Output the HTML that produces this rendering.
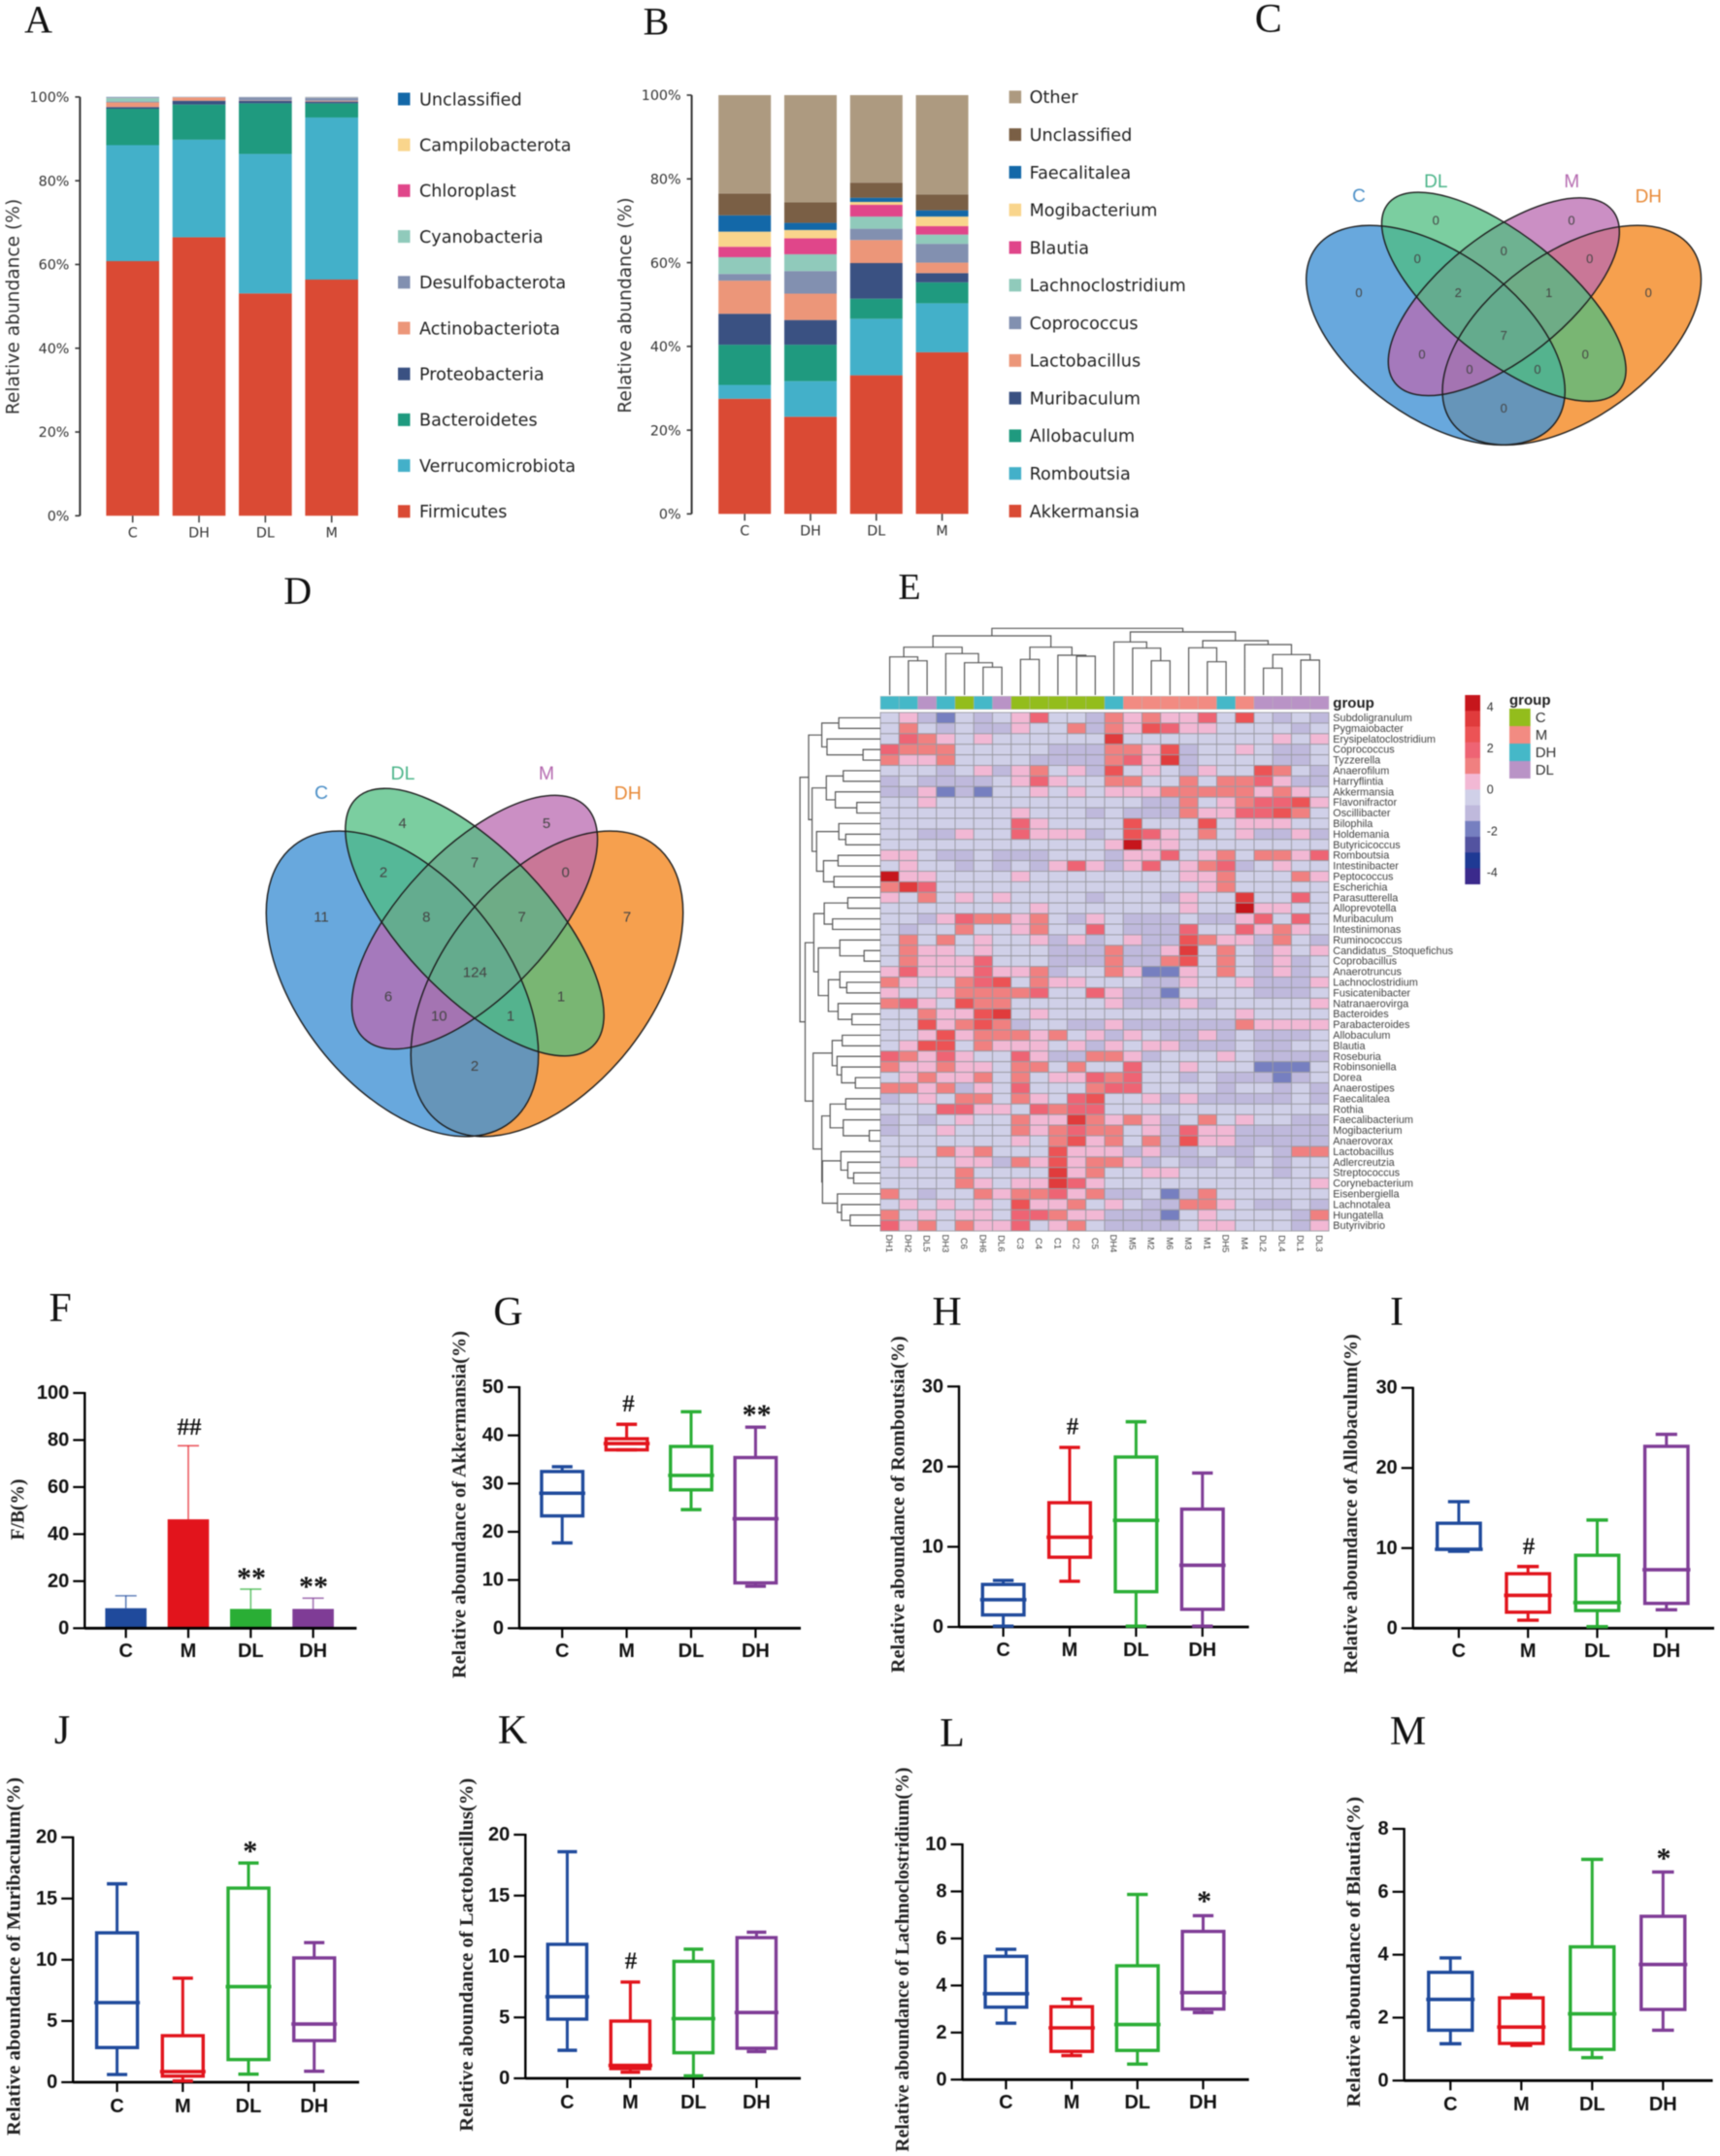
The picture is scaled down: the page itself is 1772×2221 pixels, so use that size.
<!DOCTYPE html>
<html lang="en">
<head>
<meta charset="utf-8">
<title>Gut microbiota composition figure</title>
<style>
html,body{margin:0;padding:0;background:#fff;}
#figure{display:block;width:1772px;height:2221px;background:#fff;filter:blur(0.55px);}
</style>
</head>
<body>
<svg id="figure" xmlns="http://www.w3.org/2000/svg" width="1772" height="2221" viewBox="0 0 1772 2221"></svg>
<script>
/* ---------- Panel A data ---------- */
const stackGroups = ['C','DH','DL','M'];
const stackTicks = [0,20,40,60,80,100];
const phylumNames = ['Firmicutes','Verrucomicrobiota','Bacteroidetes','Proteobacteria','Actinobacteriota','Desulfobacterota','Cyanobacteria','Chloroplast','Campilobacterota','Unclassified'];
const phylumFirmicutes = [60.8,66.5,53.1,56.4];
const phylumVerrucomicrobiota = [27.7,23.3,33.3,38.7];
const phylumBacteroidetes = [8.7,8.4,12.1,3.4];
const phylumProteobacteria = [0.4,0.9,0.6,0.4];
const phylumActinobacteriota = [1.1,0.8,0.1,0.2];
const phylumDesulfobacterota = [0.2,0.02,0.7,0.7];
const phylumCyanobacteria = [0.9,0.02,0.02,0.05];
const phylumChloroplast = [0.05,0.02,0.02,0.05];
const phylumCampilobacterota = [0.05,0.02,0.02,0.05];
const phylumUnclassified = [0.1,0.04,0.04,0.05];

/* ---------- Panel B data ---------- */
const genusNames = ['Akkermansia','Romboutsia','Allobaculum','Muribaculum','Lactobacillus','Coprococcus','Lachnoclostridium','Blautia','Mogibacterium','Faecalitalea','Unclassified','Other'];
const genusAkkermansia = [27.5,23.2,33.1,38.6];
const genusRomboutsia = [3.3,8.5,13.5,11.7];
const genusAllobaculum = [9.6,8.7,4.8,5];
const genusMuribaculum = [7.4,5.9,8.5,2.2];
const genusLactobacillus = [7.9,6.3,5.5,2.5];
const genusCoprococcus = [1.6,5.4,2.7,4.5];
const genusLachnoclostridium = [4,4,2.9,2.2];
const genusBlautia = [2.5,3.8,2.8,2];
const genusMogibacterium = [3.6,2,0.7,2.3];
const genusFaecalitalea = [3.9,1.7,1,1.5];
const genusUnclassified = [5.2,4.9,3.6,3.8];
const genusOther = [23.5,25.6,20.9,23.7];

/* ---------- Venn counts ---------- */
const vennSetNames = ['C','DL','M','DH'];
const vennCCounts = [0,0,0,0,0,0,2,1,0,0,7,0,0,0,0];
const vennDCounts = [4,5,2,7,0,11,8,7,7,6,124,1,10,1,2];

/* ---------- Heatmap data ---------- */
const heatColumns = ['DH1','DH2','DL5','DH3','C6','DH6','DL6','C3','C4','C1','C2','C5','DH4','M5','M2','M6','M3','M1','DH5','M4','DL2','DL4','DL1','DL3'];
const heatColumnGroups = ['DH','DH','DL','DH','C','DH','DL','C','C','C','C','C','DH','M','M','M','M','M','DH','M','DL','DL','DL','DL'];
const heatRows = ['Subdoligranulum','Pygmaiobacter','Erysipelatoclostridium','Coprococcus','Tyzzerella','Anaerofilum','Harryflintia','Akkermansia','Flavonifractor','Oscillibacter','Bilophila','Holdemania','Butyricicoccus','Romboutsia','Intestinibacter','Peptococcus','Escherichia','Parasutterella','Alloprevotella','Muribaculum','Intestinimonas','Ruminococcus','Candidatus_Stoquefichus','Coprobacillus','Anaerotruncus','Lachnoclostridium','Fusicatenibacter','Natranaerovirga','Bacteroides','Parabacteroides','Allobaculum','Blautia','Roseburia','Robinsoniella','Dorea','Anaerostipes','Faecalitalea','Rothia','Faecalibacterium','Mogibacterium','Anaerovorax','Lactobacillus','Adlercreutzia','Streptococcus','Corynebacterium','Eisenbergiella','Lachnotalea','Hungatella','Butyrivibrio'];
const heatValues = [
[-.4,.4,-1.1,-1.9,-.4,-1.1,-.4,.4,1.9,-.4,-.4,-1.1,1.1,.4,1.1,.4,.4,1.9,-.4,2.7,-.4,-1.1,-.4,-1.1],
[-.4,1.1,-.4,-1.1,-.4,-1.1,-1.1,.4,-.4,-.4,1.1,-1.1,1.1,.4,2.7,1.9,.4,.4,-.4,-.4,-.4,-.4,-1.1,-.4],
[-.4,1.9,1.1,.4,-.4,.4,-.4,-.4,-.4,-.4,-.4,-.4,3.4,-.4,-.4,-.4,-.4,-.4,-.4,-.4,-.4,.4,-.4,.4],
[1.9,1.1,1.1,1.1,-.4,-.4,-.4,-.4,-.4,-1.1,-1.1,-1.1,1.1,1.1,.4,2.7,-1.1,-.4,-.4,.4,-.4,-1.1,-1.1,-.4],
[1.1,.4,.4,1.1,-.4,-.4,-.4,-.4,-1.1,-1.1,-1.1,-1.1,1.1,1.9,.4,3.4,-1.1,-.4,-.4,-.4,-.4,-1.1,-1.1,-.4],
[-.4,-.4,-.4,-1.1,-.4,.4,-1.1,.4,1.1,-.4,.4,-1.1,2.7,-.4,.4,-.4,-1.1,.4,-.4,-.4,2.7,1.1,-.4,-1.1],
[-1.1,-.4,-1.1,-1.1,-1.1,-1.1,-.4,.4,1.9,.4,-.4,-.4,1.1,1.1,-.4,-.4,1.1,-.4,1.1,1.1,1.9,.4,-1.1,-1.1],
[-1.1,-1.1,.4,-1.9,-1.1,-1.9,-.4,-.4,.4,-.4,.4,-.4,.4,.4,.4,1.1,1.1,1.1,1.1,1.1,.4,1.1,.4,-.4],
[-.4,-.4,.4,-.4,-.4,-.4,-.4,-.4,-.4,-.4,-.4,-.4,-.4,-.4,-1.1,-1.1,1.1,-.4,.4,1.1,1.9,1.9,2.7,.4],
[-.4,-.4,-.4,-.4,-.4,-.4,-.4,.4,-.4,-.4,-.4,-1.1,-.4,-1.1,-1.1,-1.1,1.1,.4,.4,1.9,1.9,2.7,1.1,-.4],
[-.4,-.4,-.4,-.4,-.4,-.4,-.4,1.9,.4,-.4,-.4,-.4,-.4,2.7,-.4,-.4,-.4,2.7,-.4,.4,.4,.4,-.4,-.4],
[-.4,-.4,-1.1,-1.1,.4,-.4,-.4,1.9,.4,.4,.4,-1.1,-.4,2.7,1.9,.4,-.4,1.1,-.4,.4,-1.1,-1.1,.4,-1.1],
[-.4,-.4,-.4,-.4,-.4,-.4,-.4,-.4,-.4,-.4,-.4,-.4,.4,4.2,.4,.4,-.4,-.4,-.4,-.4,-.4,-.4,-.4,-.4],
[.4,.4,-.4,-1.1,-1.1,-.4,-1.1,-1.1,-1.1,-.4,-.4,-.4,-1.1,.4,.4,1.9,-.4,.4,1.1,-.4,1.1,1.1,.4,1.9],
[-.4,.4,-.4,-.4,-1.1,-.4,-1.1,-.4,-1.1,.4,1.9,.4,-1.1,.4,1.9,-.4,.4,1.1,1.9,-1.1,-.4,.4,-.4,-.4],
[4.2,.4,.4,-.4,-.4,-.4,-.4,.4,-.4,-.4,-.4,-.4,-.4,-.4,-.4,-.4,.4,.4,1.1,-.4,-.4,-.4,1.1,.4],
[1.1,3.4,1.9,-.4,-.4,-.4,-.4,-.4,-.4,-.4,-.4,-.4,-.4,-.4,-.4,-.4,-.4,.4,1.1,-.4,-.4,-.4,-.4,-.4],
[.4,-.4,1.1,-.4,.4,-.4,.4,-.4,-.4,-.4,-.4,-1.1,-.4,-.4,-.4,-1.1,.4,-.4,-.4,3.4,-.4,-.4,1.9,-.4],
[-.4,-.4,-.4,-.4,-.4,-.4,-.4,-.4,.4,-.4,-.4,-.4,-.4,-.4,-.4,-.4,.4,-.4,-.4,4.2,.4,.4,-.4,-.4],
[-.4,-.4,-1.1,.4,1.9,1.1,1.1,.4,1.1,-.4,-1.1,.4,-.4,-1.1,-1.1,-1.1,-.4,-1.1,-1.1,.4,1.9,-.4,1.9,-.4],
[-.4,-1.1,-.4,-.4,1.1,-.4,-.4,.4,1.1,-.4,-.4,1.9,-.4,-1.1,-1.1,-1.1,1.9,-.4,-.4,1.9,.4,1.1,.4,-.4],
[-.4,1.1,-.4,1.1,-.4,.4,-.4,-.4,.4,-1.1,.4,-1.1,-.4,.4,-1.1,-1.1,2.7,1.1,.4,.4,-1.1,1.1,-.4,-1.1],
[-.4,1.1,.4,.4,-.4,.4,-.4,-.4,-.4,-1.1,-1.1,-1.1,1.1,-1.1,-1.1,.4,3.4,-.4,1.1,-.4,-1.1,.4,-.4,.4],
[-.4,1.1,.4,.4,.4,1.9,-.4,-.4,-.4,-1.1,-1.1,-1.1,1.1,-1.1,-1.1,1.1,2.7,-.4,1.1,-.4,-1.1,.4,-1.1,-.4],
[.4,1.9,.4,.4,.4,1.9,.4,.4,1.1,-1.1,-.4,-.4,1.1,.4,-1.9,-1.9,.4,-.4,1.1,-.4,-1.1,.4,-1.1,-.4],
[1.1,.4,-.4,-.4,1.1,1.9,2.7,-.4,1.1,.4,.4,-.4,-.4,-.4,-1.1,-1.1,.4,-.4,-.4,.4,-1.1,-1.1,-1.1,.4],
[.4,-.4,-.4,.4,1.1,1.1,1.1,1.1,1.9,-.4,-.4,1.9,.4,-1.1,-1.1,-1.9,-.4,-.4,-.4,-.4,-1.1,-1.1,-1.1,-.4],
[1.1,1.9,.4,-.4,2.7,1.1,1.1,-.4,-.4,-.4,-.4,-.4,.4,-1.1,-1.1,-1.1,.4,-1.1,-.4,-.4,-.4,-.4,-.4,.4],
[-.4,-.4,1.1,.4,.4,2.7,3.4,-.4,.4,-.4,-.4,-.4,-.4,-.4,-.4,-.4,-.4,-.4,-.4,.4,-.4,-.4,-.4,-.4],
[-.4,-.4,2.7,.4,1.1,2.7,1.1,-1.1,-.4,-.4,-1.1,-1.1,.4,-1.1,-1.1,-1.1,-1.1,-1.1,-1.1,1.1,.4,.4,.4,.4],
[-.4,-.4,.4,2.7,.4,1.1,1.1,1.1,.4,1.1,-.4,.4,-1.1,.4,-.4,-1.1,-1.1,.4,-1.1,-.4,-1.1,-1.1,-1.1,-.4],
[-.4,.4,2.7,2.7,-.4,1.1,.4,.4,.4,-.4,.4,-1.1,.4,-.4,.4,.4,-1.1,-1.1,-1.1,-.4,-1.1,-1.1,-.4,-.4],
[1.9,1.1,.4,1.9,.4,-.4,-.4,1.9,.4,-1.1,-1.1,1.1,1.1,.4,-1.1,-.4,-.4,-.4,.4,-.4,-1.1,-1.1,-1.1,-1.1],
[1.1,.4,.4,1.1,.4,.4,-.4,1.1,1.1,-.4,1.1,-.4,-.4,1.9,-.4,-.4,.4,-.4,-.4,-.4,-1.9,-1.9,-1.9,-.4],
[-.4,.4,1.1,.4,.4,1.1,-.4,1.1,-.4,.4,.4,1.9,1.1,1.9,-.4,-.4,-1.1,-.4,-1.1,-1.1,-1.1,-1.9,-1.1,-.4],
[1.1,1.1,.4,1.1,-1.1,.4,-.4,1.9,-.4,-.4,-.4,1.1,1.9,1.9,-.4,-.4,-.4,-.4,-1.1,-.4,-.4,-1.1,-.4,-1.1],
[-1.1,-.4,.4,-.4,1.1,1.1,-.4,1.1,.4,-.4,1.9,2.7,-.4,-.4,.4,-1.1,.4,-1.1,-1.1,-1.1,-1.1,-1.1,-.4,-1.1],
[-.4,-.4,-.4,1.9,1.9,.4,.4,-.4,1.9,1.1,1.9,1.9,-.4,-.4,-.4,-.4,-.4,-.4,-.4,-.4,-.4,-.4,-.4,-.4],
[-1.1,-.4,-1.1,-.4,.4,-.4,-.4,1.1,.4,.4,3.4,1.1,.4,1.1,.4,-1.1,-.4,1.1,-.4,.4,-.4,-.4,-1.1,-1.1],
[-1.1,-.4,-.4,.4,-.4,-.4,-.4,1.1,.4,1.1,1.9,1.1,1.1,-.4,.4,-1.1,1.9,.4,.4,-1.1,-1.1,-1.1,-1.1,-1.1],
[-.4,-.4,-.4,-.4,-.4,-.4,-.4,.4,-.4,1.1,2.7,.4,1.1,-.4,1.1,-1.1,2.7,.4,.4,-1.1,-1.1,-1.1,-1.1,-1.1],
[-.4,-.4,-.4,1.1,.4,1.1,-.4,-.4,-.4,2.7,.4,.4,.4,-1.1,.4,-1.1,-1.1,-.4,-1.1,-1.1,-.4,-1.1,1.1,1.1],
[-.4,.4,-.4,-.4,.4,.4,-1.1,1.1,.4,2.7,.4,1.1,1.1,.4,-1.1,-.4,-1.1,-1.1,-.4,-1.1,-.4,-1.1,-.4,-.4],
[-.4,-.4,-.4,-.4,1.1,-.4,-.4,-.4,-.4,3.4,.4,1.1,-.4,-.4,.4,.4,-.4,-.4,-.4,-.4,-.4,-1.1,-.4,-.4],
[-.4,-.4,-.4,-.4,1.1,.4,-.4,.4,.4,3.4,1.9,.4,-.4,-.4,-.4,-.4,-.4,-.4,-.4,-.4,-.4,-.4,-.4,.4],
[1.1,-.4,-1.1,-.4,-.4,1.1,.4,1.1,1.1,1.9,.4,1.1,-1.1,-1.1,-.4,-1.9,-1.1,1.1,-.4,-.4,-.4,-.4,-.4,-.4],
[-.4,.4,-.4,.4,-.4,.4,-.4,2.7,.4,.4,1.1,-.4,.4,-.4,-1.1,-1.1,1.1,1.1,.4,-.4,-1.1,-1.1,-.4,-1.1],
[1.1,-.4,.4,-.4,.4,.4,-.4,1.9,1.9,1.1,.4,.4,-1.1,-1.1,-1.1,-1.9,-.4,.4,-.4,-.4,-.4,-.4,-1.1,1.1],
[1.9,.4,1.1,-.4,1.1,.4,.4,1.9,-.4,.4,1.1,-.4,-1.1,-1.1,-1.1,-1.1,-.4,.4,.4,-.4,-.4,-.4,-1.1,.4]
];
const heatLegendTicks = [4,2,0,-2,-4];
const heatLegendGroups = ['C','M','DH','DL'];
/* dendrogram merge trees: [merge distance, child, child]; integers are leaf indices */
const topTree = [206,[183,[148,[118,0,[106,1,2]],[128,3,[100,4,[86,5,6]]]],[148,[110,7,8],[123,9,[120,10,11]]]],[195,[164,12,[145,13,[106,14,15]]],[168,[146,16,[103,17,18]],[156,19,[125,[83,20,21],[108,22,23]]]]]];
const leftTree = [232,[207,[169,[120,0,1],[154,2,[50,3,4]]],[197,[156,[107,5,6],[130,7,[68,8,9]]],[184,[120,10,[100,11,12]],[164,[122,13,14],[134,15,16]]]]],[217,[192,[162,[94,17,18],[138,19,20]],[179,[117,21,[47,22,23]],[150,[117,24,[97,25,26]],[122,27,[82,28,29]]]]],[194,[139,[110,30,31],[125,32,[112,33,[72,34,35]]]],[169,[145,[100,36,37],[107,38,[32,39,40]]],[167,[114,41,[94,42,[77,43,44]]],[124,45,[112,46,[87,47,48]]]]]]]];

/* ---------- Panel F-M data ---------- */
const treatmentGroups = ['C','M','DL','DH'];
const fbMeans = [8.5,46.3,8.2,8.2];
const fbUpper = [13.8,77.6,16.6,12.8];
const fbTicks = [0,20,40,60,80,100];
/* each box: [low whisker, q1, median, q3, high whisker] */
const akkermansiaBoxes = [[17.7,23.3,28,32.5,33.5],[37,37,38.3,39.3,42.3],[24.6,28.7,31.7,37.7,44.9],[8.7,9.4,22.7,35.4,41.7]];
const akkermansiaTicks = [0,10,20,30,40,50];
const romboutsiaBoxes = [[0.1,1.5,3.4,5.3,5.8],[5.7,8.7,11.2,15.5,22.4],[0.1,4.4,13.3,21.2,25.6],[0.1,2.2,7.7,14.7,19.2]];
const romboutsiaTicks = [0,10,20,30];
const allobaculumBoxes = [[9.6,9.85,9.85,13.1,15.8],[1,2,4.1,6.8,7.7],[0.2,2.2,3.2,9.1,13.5],[2.3,3.1,7.3,22.7,24.2]];
const allobaculumTicks = [0,10,20,30];
const muribaculumBoxes = [[0.63,2.83,6.5,12.2,16.2],[0.1,0.5,0.87,3.8,8.5],[0.66,1.85,7.8,15.85,17.9],[0.9,3.4,4.75,10.15,11.4]];
const muribaculumTicks = [0,5,10,15,20];
const lactobacillusBoxes = [[2.3,4.86,6.7,11,18.6],[0.5,0.8,1.06,4.7,7.9],[0.2,2.1,4.9,9.6,10.6],[2.2,2.47,5.4,11.55,12]];
const lactobacillusTicks = [0,5,10,15,20];
const lachnoBoxes = [[2.4,3.08,3.65,5.24,5.54],[1.02,1.2,2.2,3.1,3.43],[0.66,1.24,2.34,4.84,7.87],[2.85,3,3.7,6.3,6.97]];
const lachnoTicks = [0,2,4,6,8,10];
const blautiaBoxes = [[1.17,1.6,2.58,3.44,3.9],[1.12,1.18,1.7,2.63,2.73],[0.73,0.99,2.12,4.25,7.03],[1.6,2.26,3.69,5.22,6.63]];
const blautiaTicks = [0,2,4,6,8];

/* ---------- drawing helpers ---------- */
const NS = 'http://www.w3.org/2000/svg';
const root = document.getElementById('figure');
const SANS = '"Liberation Sans", sans-serif';
const SERIF = '"Liberation Serif", serif';
const DEJAVU = '"DejaVu Sans", sans-serif';

function mk(parent, tag, attrs, name) {
  const el = document.createElementNS(NS, tag);
  for (const k in attrs) el.setAttribute(k, attrs[k]);
  
  
  parent.appendChild(el);
  return el;
}
function line(p, x1, y1, x2, y2, stroke, w, name) {
  return mk(p, 'line', {x1:x1, y1:y1, x2:x2, y2:y2, stroke:stroke, 'stroke-width':w}, name);
}
function tx(p, x, y, str, o, name) {
  const a = {x:x, y:y, 'font-family':o.family || SANS, 'font-size':o.size, fill:o.fill || '#111',
    'text-anchor':o.anchor || 'middle', 'dominant-baseline':'central'};
  if (o.weight) a['font-weight'] = o.weight;
  if (o.rot) a.transform = 'rotate(' + o.rot + ' ' + x + ' ' + y + ')';
  if (o.len) { a.textLength = o.len; a.lengthAdjust = 'spacingAndGlyphs'; }
  const el = mk(p, 'text', a, name);
  el.textContent = str;
  return el;
}
function slug(s) { return String(s).toLowerCase().replace(/[^a-z0-9]+/g, '-').replace(/^-|-$/g, ''); }

/* ---------- panel letters ---------- */
[['A',39.6,20,40],['B',676,22,40],['C',1306.7,20,42],['D',306.7,608.6,40],['E',937,605,38],
 ['F',62,1348,42],['G',523.5,1352,42],['H',975.6,1352,42],['I',1439,1352,42],
 ['J',64,1783,42],['K',528,1783,42],['L',981,1786,42],['M',1450.5,1784,42]].forEach(function (d) {
  tx(root, d[1], d[2], d[0], {family:SERIF, size:d[3], fill:'#111'}, 'panel-label-' + d[0].toLowerCase());
});

/* ---------- stacked bars ---------- */
function drawStack(cfg) {
  const g = mk(root, 'g', {}, cfg.name);
  const y = function (v) { return cfg.y0 - (cfg.y0 - cfg.y100) * v / 100; };
  const x = function (i) { return cfg.x0 + cfg.step * i; };
  stackGroups.forEach(function (grp, i) {
    let acc = 0;
    cfg.series.forEach(function (vals, s) {
      const top = y(acc + vals[i]);
      mk(g, 'rect', {x:x(i) - cfg.w / 2, y:top, width:cfg.w, height:y(acc) - top, fill:cfg.colors[s]},
        'bar-' + slug(grp) + '-' + slug(cfg.names[s]));
      acc += vals[i];
    });
    line(g, x(i), cfg.y0, x(i), cfg.y0 + 7, '#444', 1.6, 'x-tick-' + slug(grp));
    tx(g, x(i), cfg.y0 + 18.2, grp, {family:DEJAVU, size:14.3, fill:'#333'}, 'x-tick-label-' + slug(grp));
  });
  line(g, cfg.axis, cfg.y100, cfg.axis, cfg.y0, '#333', 2, 'y-axis-line');
  stackTicks.forEach(function (t) {
    line(g, cfg.axis - 5, y(t), cfg.axis, y(t), '#333', 1.6, 'y-tick-' + t);
    tx(g, cfg.axis - 11, y(t) + 1.2, t + '%', {family:DEJAVU, size:14.3, fill:'#333', anchor:'end'}, 'y-tick-label-' + t);
  });
  tx(g, cfg.titleX, cfg.titleY, 'Relative abundance (%)', {family:DEJAVU, size:18.6, fill:'#333', rot:-90}, 'y-axis-title');
  const n = cfg.names.length;
  cfg.names.forEach(function (nm, s) {
    const ly = cfg.legY0 + cfg.legStep * (n - 1 - s);
    mk(g, 'rect', {x:cfg.legX, y:ly - 6.5, width:12.5, height:13, fill:cfg.colors[s]}, 'legend-swatch-' + slug(nm));
    tx(g, cfg.legX + cfg.legGap, ly + 1.3, nm, {family:DEJAVU, size:17.6, fill:'#222', anchor:'start'}, 'legend-entry-' + slug(nm));
  });
}
drawStack({name:'phylum-stacked-bar-chart', y0:531.3, y100:99.9, x0:136.7, step:68.33, w:54.6, axis:82.4, titleX:14, titleY:316,
  names:phylumNames,
  series:[phylumFirmicutes,phylumVerrucomicrobiota,phylumBacteroidetes,phylumProteobacteria,phylumActinobacteriota,phylumDesulfobacterota,phylumCyanobacteria,phylumChloroplast,phylumCampilobacterota,phylumUnclassified],
  colors:['#da4a34','#43b0c9','#1f9a7f','#3a5182','#ec9679','#8290b0','#90cabb','#e0468a','#f9d58c','#1368a8'],
  legX:410, legGap:22, legY0:102, legStep:47.2});
drawStack({name:'genus-stacked-bar-chart', y0:529.4, y100:98, x0:767.2, step:67.8, w:54, axis:712.6, titleX:644.5, titleY:314.5,
  names:genusNames,
  series:[genusAkkermansia,genusRomboutsia,genusAllobaculum,genusMuribaculum,genusLactobacillus,genusCoprococcus,genusLachnoclostridium,genusBlautia,genusMogibacterium,genusFaecalitalea,genusUnclassified,genusOther],
  colors:['#da4a34','#43b0c9','#1f9a7f','#3a5182','#ec9679','#8290b0','#90cabb','#e0468a','#f9d58c','#1368a8','#7a5f45','#ad9a80'],
  legX:1039.6, legGap:21, legY0:99.9, legStep:38.78});

/* ---------- Venn diagrams ---------- */
function drawVenn(cfg) {
  const g = mk(root, 'g', {}, cfg.name);
  const fills = {C:'#4292d4', DL:'#4fbe80', M:'#ba6ab0', DH:'#f38013'};
  const alphas = {C:0.8, DL:0.75, M:0.75, DH:0.75};
  const strokes = {C:'#4b8fc7', DL:'#4cb58a', M:'#b56bb0', DH:'#e88a38'};
  ['DH','C','M','DL'].forEach(function (k) {
    const e = cfg.ellipses[k];
    mk(g, 'ellipse', {cx:e[0], cy:e[1], rx:e[2], ry:e[3], fill:fills[k], 'fill-opacity':alphas[k],
      transform:'rotate(' + e[4] + ' ' + e[0] + ' ' + e[1] + ')'}, 'venn-set-' + k.toLowerCase());
  });
  ['DH','C','M','DL'].forEach(function (k) {
    const e = cfg.ellipses[k];
    mk(g, 'ellipse', {cx:e[0], cy:e[1], rx:e[2], ry:e[3], fill:'none', stroke:'#1c1c1c', 'stroke-width':1.4,
      transform:'rotate(' + e[4] + ' ' + e[0] + ' ' + e[1] + ')'}, 'venn-outline-' + k.toLowerCase());
  });
  vennSetNames.forEach(function (k, i) {
    tx(g, cfg.labels[i][0], cfg.labels[i][1], k, {size:cfg.labelSize, fill:strokes[k]}, 'venn-label-' + k.toLowerCase());
  });
  cfg.counts.forEach(function (c, i) {
    tx(g, cfg.spots[i][0], cfg.spots[i][1], c, {size:cfg.countSize, fill:'#444'}, 'venn-count-' + i);
  });
}
drawVenn({name:'venn-diagram-c', labelSize:19, countSize:13, counts:vennCCounts,
  ellipses:{C:[1479,345.3,152.7,85,36], DH:[1619.3,345.3,152.7,85,-36], DL:[1549.3,305.7,153,63.3,38.7], M:[1549.3,305.7,143,64,-38.3]},
  labels:[[1400,202.7],[1479.3,187.7],[1619.3,187.7],[1698.3,203]],
  spots:[[1479.3,227],[1619,227],[1460.3,266.7],[1549.3,258.3],[1637.7,266.7],[1400,301.7],[1502.3,301.7],[1595.7,301.7],[1698.3,301.7],[1465,365],[1549.3,345.7],[1633.3,365],[1514,380.7],[1584,380.7],[1549.3,420.7]]});
drawVenn({name:'venn-diagram-d', labelSize:19.5, countSize:15, counts:vennDCounts,
  ellipses:{C:[414.5,1013.4,181,108,52], DH:[563.5,1013.4,181,108,-52], DL:[489,950,176.4,74.8,46.4], M:[489,950,165.4,75.7,-46.4]},
  labels:[[331,817],[415,796.8],[563,796.8],[646.7,817.5]],
  spots:[[414.7,848.6],[563,848.6],[395,899],[489,889],[582.7,899],[331,945],[439.3,945],[537.7,945],[646,945],[400,1027],[489.3,1001.8],[578,1027],[452.3,1047],[526,1047],[489,1098.6]]});

/* ---------- heatmap ---------- */
const heatPalette = [[3.84,'#c6161c'],[3.07,'#e03b3c'],[2.3,'#ec5355'],[1.54,'#ee6474'],[0.77,'#f08080'],[0,'#f2b8d4'],[-0.77,'#d0d0e8'],[-1.53,'#bfb9dc'],[-2.3,'#767fc0'],[-3.07,'#5353a0'],[-3.84,'#1f3a94'],[-99,'#3b2a8c']];
function heatColor(v) {
  for (let i = 0; i < heatPalette.length; i++) if (v >= heatPalette[i][0]) return heatPalette[i][1];
  return '#3b2a8c';
}
const groupColors = {C:'#93bd1c', M:'#f28b82', DH:'#45b8c8', DL:'#b993c6'};
(function () {
  const g = mk(root, 'g', {}, 'heatmap-panel');
  const x0 = 907, cw = 19.25, y0 = 734, ch = 10.9;
  const colX = function (c) { return x0 + cw * c; };
  const rowY = function (r) { return y0 + ch * r; };
  heatColumnGroups.forEach(function (grp, c) {
    mk(g, 'rect', {x:colX(c), y:717.3, width:cw, height:13.4, fill:groupColors[grp], stroke:'#b8b8b8', 'stroke-width':0.4}, 'annotation-cell-' + slug(heatColumns[c]));
  });
  tx(g, 1373.3, 724.7, 'group', {size:15, weight:'bold', fill:'#222', anchor:'start'}, 'annotation-title');
  heatValues.forEach(function (row, r) {
    row.forEach(function (v, c) {
      mk(g, 'rect', {x:colX(c), y:rowY(r), width:cw, height:ch, fill:heatColor(v), stroke:'#9a9aa2', 'stroke-width':0.9}, 'heat-cell-' + r + '-' + c);
    });
  });
  heatRows.forEach(function (nm, r) {
    tx(g, 1373.3, rowY(r) + ch / 2 + 0.5, nm, {size:10.87, fill:'#444', anchor:'start'}, 'row-label-' + slug(nm));
  });
  heatColumns.forEach(function (nm, c) {
    tx(g, colX(c) + cw / 2, 1281, nm, {size:9.4, fill:'#444', rot:90}, 'column-label-' + slug(nm));
  });
  /* dendrograms */
  function walkTop(node, yFor, xFor, out) {
    if (typeof node === 'number') return {c:xFor(node), h:yFor(0)};
    const a = walkTop(node[1], yFor, xFor, out), b = walkTop(node[2], yFor, xFor, out);
    const h = yFor(node[0]);
    out.push('M' + a.c + ' ' + a.h + 'V' + h + 'H' + b.c + 'V' + b.h);
    return {c:(a.c + b.c) / 2, h:h};
  }
  function walkLeft(node, xFor, yFor, out) {
    if (typeof node === 'number') return {c:yFor(node), h:xFor(0)};
    const a = walkLeft(node[1], xFor, yFor, out), b = walkLeft(node[2], xFor, yFor, out);
    const h = xFor(node[0]);
    out.push('M' + a.h + ' ' + a.c + 'H' + h + 'V' + b.c + 'H' + b.h);
    return {c:(a.c + b.c) / 2, h:h};
  }
  const topPath = [];
  walkTop(topTree, function (d) { return 716 - d / 3; }, function (c) { return colX(c) + cw / 2; }, topPath);
  mk(g, 'path', {d:topPath.join(''), fill:'none', stroke:'#555', 'stroke-width':1.2}, 'column-dendrogram');
  const leftPath = [];
  walkLeft(leftTree, function (d) { return 907 - d / 2.8; }, function (r) { return rowY(r) + ch / 2; }, leftPath);
  mk(g, 'path', {d:leftPath.join(''), fill:'none', stroke:'#555', 'stroke-width':1.2}, 'row-dendrogram');
  /* colour legend */
  const barTop = 716, barH = 194.7 / 12;
  heatPalette.forEach(function (p, i) {
    mk(g, 'rect', {x:1509.3, y:barTop + i * barH, width:15.7, height:barH + 0.3, fill:p[1]}, 'colorbar-step-' + i);
  });
  heatLegendTicks.forEach(function (t) {
    tx(g, 1531.7, 813.7 - t * 21.3, t, {size:12.5, fill:'#333', anchor:'start'}, 'colorbar-tick-' + slug('v' + t));
  });
  tx(g, 1555, 721.7, 'group', {size:15, weight:'bold', fill:'#222', anchor:'start'}, 'group-legend-title');
  heatLegendGroups.forEach(function (k, i) {
    mk(g, 'rect', {x:1555, y:730 + 18 * i, width:21.7, height:18, fill:groupColors[k]}, 'group-legend-swatch-' + k.toLowerCase());
    tx(g, 1581.7, 739.3 + 18 * i, k, {size:15, fill:'#333', anchor:'start'}, 'group-legend-entry-' + k.toLowerCase());
  });
})();

/* ---------- shared axes for F-M ---------- */
const treatmentColors = ['#1f4a9c','#e2141c','#2aae35','#7f3c96'];
function axes(g, cfg, ticks) {
  const y = function (v) { return cfg.y0 - (cfg.y0 - cfg.yTop) * v / cfg.max; };
  line(g, cfg.axis, cfg.yTop - 1, cfg.axis, cfg.y0 + 1, '#000', 2.4, 'y-axis-line');
  line(g, cfg.axis, cfg.y0, cfg.right, cfg.y0, '#000', 2.8, 'x-axis-line');
  ticks.forEach(function (t) {
    line(g, cfg.axis - 12, y(t), cfg.axis, y(t), '#000', 2.2, 'y-tick-' + t);
    tx(g, cfg.axis - 16, y(t), t, {size:20, weight:'bold', fill:'#111', anchor:'end'}, 'y-tick-label-' + t);
  });
  treatmentGroups.forEach(function (grp, i) {
    const x = cfg.x0 + cfg.step * i;
    line(g, x, cfg.y0, x, cfg.y0 + 10, '#000', 2.2, 'x-tick-' + slug(grp));
    tx(g, x, cfg.labelY, grp, {size:20, weight:'bold', fill:'#111'}, 'x-tick-label-' + slug(grp));
  });
  tx(g, cfg.titleX, cfg.titleY, cfg.title, {family:SERIF, size:20, weight:'bold', fill:'#222', rot:-90, len:cfg.titleLen}, 'y-axis-title');
  (cfg.marks || []).forEach(function (m, i) {
    const star = m[1].charAt(0) === '*';
    tx(g, m[0], m[2] + (star ? 4.5 : 0), m[1], {family:SERIF, size:star ? 30 : 25, weight:'bold', fill:'#111'}, 'significance-mark-' + i);
  });
  return y;
}
function drawBoxes(cfg, boxes, ticks) {
  const g = mk(root, 'g', {}, cfg.name);
  const y = axes(g, cfg, ticks);
  boxes.forEach(function (b, i) {
    const x = cfg.x0 + cfg.step * i, col = treatmentColors[i], hw = cfg.w / 2, grp = slug(treatmentGroups[i]);
    line(g, x, y(b[0]), x, y(b[1]), col, 3, 'whisker-low-' + grp);
    line(g, x, y(b[3]), x, y(b[4]), col, 3, 'whisker-high-' + grp);
    line(g, x - hw / 2, y(b[0]), x + hw / 2, y(b[0]), col, 3.4, 'cap-low-' + grp);
    line(g, x - hw / 2, y(b[4]), x + hw / 2, y(b[4]), col, 3.4, 'cap-high-' + grp);
    mk(g, 'rect', {x:x - hw, y:y(b[3]), width:cfg.w, height:y(b[1]) - y(b[3]), fill:'none', stroke:col, 'stroke-width':3.4}, 'box-' + grp);
    line(g, x - hw - 2.5, y(b[2]), x + hw + 2.5, y(b[2]), col, 3.6, 'median-' + grp);
  });
}

/* ---------- panel F ---------- */
(function () {
  const cfg = {axis:87.3, right:367.4, yTop:1435, y0:1677.3, max:100, x0:129.7, step:64.3, labelY:1701,
    titleX:18.4, titleY:1555, title:'F/B(%)', titleLen:63,
    marks:[[195,'##',1470.7],[259,'**',1621],[323,'**',1630]]};
  const g = mk(root, 'g', {}, 'fb-ratio-bar-chart');
  const barPane = mk(g, 'g', {}, 'fb-bars');
  const y = function (v) { return cfg.y0 - (cfg.y0 - cfg.yTop) * v / cfg.max; };
  fbMeans.forEach(function (m, i) {
    const x = cfg.x0 + cfg.step * i, col = treatmentColors[i], grp = slug(treatmentGroups[i]);
    const errV = line(barPane, x, y(fbUpper[i]), x, y(m), col, 1.6, 'error-bar-' + grp);
    errV.setAttribute('stroke-opacity', '0.7');
    const errC = line(barPane, x - 11, y(fbUpper[i]), x + 11, y(fbUpper[i]), col, 1.6, 'error-cap-' + grp);
    errC.setAttribute('stroke-opacity', '0.7');
    mk(barPane, 'rect', {x:x - 21.3, y:y(m), width:42.6, height:cfg.y0 - y(m), fill:col}, 'bar-' + grp);
  });
  axes(g, cfg, fbTicks);
})();

/* ---------- panels G-M ---------- */
drawBoxes({name:'akkermansia-box-plot', axis:535, right:825, yTop:1429, y0:1677.3, max:50, x0:579.2, step:66.4, w:42.5, labelY:1701,
  titleX:473.6, titleY:1550, title:'Relative aboundance of Akkermansia(%)', titleLen:358,
  marks:[[647.5,'#',1446.7],[779.6,'**',1453]]}, akkermansiaBoxes, akkermansiaTicks);
drawBoxes({name:'romboutsia-box-plot', axis:988, right:1286.7, yTop:1428.3, y0:1676, max:30, x0:1033.6, step:68.4, w:42.7, labelY:1700,
  titleX:925.5, titleY:1549.7, title:'Relative aboundance of Romboutsia(%)', titleLen:347,
  marks:[[1105,'#',1470]]}, romboutsiaBoxes, romboutsiaTicks);
drawBoxes({name:'allobaculum-box-plot', axis:1455.7, right:1766, yTop:1429.7, y0:1677.3, max:30, x0:1502.9, step:71.3, w:44.4, labelY:1701,
  titleX:1392, titleY:1549.3, title:'Relative aboundance of Allobaculum(%)', titleLen:350,
  marks:[[1575,'#',1593.3]]}, allobaculumBoxes, allobaculumTicks);
drawBoxes({name:'muribaculum-box-plot', axis:75.2, right:370, yTop:1892.7, y0:2145, max:20, x0:120.6, step:67.7, w:42, labelY:2170,
  titleX:14.4, titleY:2015.5, title:'Relative aboundance of Muribaculum(%)', titleLen:369,
  marks:[[257.8,'*',1902.7]]}, muribaculumBoxes, muribaculumTicks);
drawBoxes({name:'lactobacillus-box-plot', axis:541.3, right:825, yTop:1890, y0:2141, max:20, x0:584.4, step:65, w:40.2, labelY:2166,
  titleX:481, titleY:2013.7, title:'Relative aboundance of Lactobacillus(%)', titleLen:364,
  marks:[[650,'#',2020.7]]}, lactobacillusBoxes, lactobacillusTicks);
drawBoxes({name:'lachnoclostridium-box-plot', axis:991.5, right:1286.7, yTop:1900, y0:2142.3, max:10, x0:1036.4, step:67.7, w:42.7, labelY:2166,
  titleX:930, titleY:2018.7, title:'Relative aboundance of Lachnoclostridium(%)', titleLen:396,
  marks:[[1240.6,'*',1954]]}, lachnoBoxes, lachnoTicks);
drawBoxes({name:'blautia-box-plot', axis:1446.6, right:1764.5, yTop:1884, y0:2143.3, max:8, x0:1494.3, step:73, w:45, labelY:2168,
  titleX:1394.8, titleY:2010.8, title:'Relative aboundance of Blautia(%)', titleLen:320,
  marks:[[1714,'*',1910]]}, blautiaBoxes, blautiaTicks);
</script>
</body>
</html>
